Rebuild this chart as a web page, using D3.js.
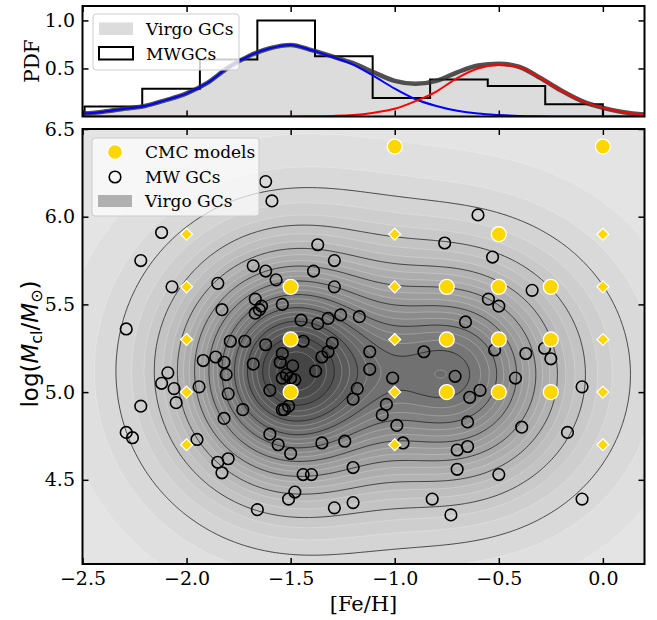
<!DOCTYPE html>
<html>
<head>
<meta charset="utf-8">
<script src="https://cdn.jsdelivr.net/npm/d3@7"></script>
<style>
  body { margin: 0; background: #fff; }
  svg text { font-family: "DejaVu Serif", serif; fill: #000; }
</style>
</head>
<body>
<svg id="chart" width="657" height="620"></svg>
<script>
// ---- data ----

// top panel: [Fe/H] PDFs (Virgo GCs mixture components and total)
const pdfFeH = [-2.5, -2.4, -2.3, -2.2, -2.1, -2.0, -1.9, -1.8, -1.7, -1.6, -1.5, -1.4, -1.3, -1.2,
  -1.1, -1.0, -0.9, -0.8, -0.7, -0.6, -0.5, -0.4, -0.3, -0.2, -0.1, 0.0, 0.1, 0.2];
const pdfBlue = [0.03, 0.05, 0.08, 0.11, 0.17, 0.24, 0.35, 0.51, 0.63, 0.71, 0.745, 0.69, 0.62, 0.54,
  0.42, 0.29, 0.18, 0.11, 0.06, 0.03, 0.015, 0.006, 0.002, 0, 0, 0, 0, 0];
const pdfRed = [0, 0, 0, 0, 0, 0, 0, 0, 0, 0, 0.001, 0.002, 0.006, 0.015,
  0.04, 0.08, 0.16, 0.26, 0.40, 0.50, 0.535, 0.51, 0.40, 0.27, 0.16, 0.09, 0.045, 0.02];
const pdfTotal = [0.03, 0.05, 0.08, 0.11, 0.17, 0.24, 0.35, 0.51, 0.63, 0.71, 0.745, 0.69, 0.625, 0.555,
  0.46, 0.37, 0.34, 0.37, 0.46, 0.53, 0.55, 0.515, 0.40, 0.27, 0.16, 0.09, 0.045, 0.02];

// top panel: MW GC histogram (bin edges and normalised heights)
const mwBinEdges = [-2.49, -2.213, -1.936, -1.66, -1.383, -1.106, -0.83, -0.553, -0.277, 0.0];
const mwBinHeights = [0.103, 0.29, 0.593, 1.0, 0.628, 0.193, 0.386, 0.317, 0.128];

// main panel: Milky Way GCs
const mwFeH = [-1.62, -1.59, -2.12, -2.22, -2.07, -1.85, -1.68, -1.62, -1.57, -1.37, -1.29, -1.39, -1.29,
  -1.83, -1.67, -1.64, -1.65, -1.67, -1.54, -1.45, -1.37, -1.32, -1.26, -1.17, -2.29, -1.79, -1.72,
  -1.62, -1.44, -1.30, -1.32, -1.35, -1.54, -1.55, -1.49, -1.68, -1.38, -1.52, -1.54, -1.50, -1.48,
  -1.92, -1.86, -1.82, -2.09, -2.12, -2.06, -2.05, -2.22, -1.94, -1.81, -1.80, -1.73, -1.60, -1.54,
  -1.53, -1.51, -1.82, -2.29, -2.26, -1.95, -1.60, -1.56, -1.50, -1.35, -1.24, -1.20, -1.18, -1.20,
  -1.85, -1.80, -1.83, -1.44, -1.40, -1.48, -1.51, -1.66, -1.29, -1.20, -0.60, -0.76, -0.53, -0.34,
  -0.55, -0.50, -0.66, -0.86, -0.52, -0.37, -0.28, -0.25, -1.12, -1.12, -1.01, -0.71, -0.42, -0.59,
  -0.64, -1.04, -1.06, -0.99, -0.96, -0.65, -0.39, -0.10, -0.17, -0.70, -0.65, -0.70, -0.50, -0.82,
  -0.73, -0.10];
const mwLogM = [6.20, 6.09, 5.91, 5.75, 5.60, 5.62, 5.72, 5.69, 5.64, 5.84, 5.75, 5.69, 5.60,
  5.47, 5.53, 5.49, 5.47, 5.45, 5.50, 5.41, 5.39, 5.42, 5.44, 5.43, 5.36, 5.29, 5.29,
  5.27, 5.29, 5.28, 5.23, 5.20, 5.22, 5.17, 5.15, 5.16, 5.12, 5.10, 5.08, 5.08, 5.07,
  5.18, 5.20, 5.17, 5.11, 5.05, 5.02, 4.94, 4.92, 5.03, 5.10, 4.99, 4.90, 5.01, 4.90,
  4.90, 4.92, 4.85, 4.77, 4.74, 4.73, 4.76, 4.70, 4.65, 4.71, 4.72, 4.57, 5.02, 4.96,
  4.60, 4.62, 4.54, 4.53, 4.53, 4.43, 4.39, 4.33, 4.34, 4.37, 6.01, 5.85, 5.77, 5.58,
  5.53, 5.49, 5.40, 5.23, 5.24, 5.22, 5.25, 5.19, 5.23, 5.13, 5.08, 5.09, 5.08, 5.01,
  4.97, 4.93, 4.87, 4.81, 4.71, 4.83, 4.80, 5.03, 4.77, 4.67, 4.69, 4.56, 4.53, 4.39,
  4.30, 4.39];

// main panel: CMC model grid (circles) and extra models (diamonds)
const cmcFeH = [-1.0, 0.0, -0.5, -1.5, -0.75, -0.5, -0.25, -1.5, -0.75, -0.5, -0.25, -1.5, -0.75, -0.5, -0.25];
const cmcLogM = [6.4, 6.4, 5.9, 5.6, 5.6, 5.6, 5.6, 5.3, 5.3, 5.3, 5.3, 5.0, 5.0, 5.0, 5.0];
const cmcDiamondFeH = [-2.0, -2.0, -2.0, -2.0, -2.0, -1.0, -1.0, -1.0, -1.0, -1.0, 0.0, 0.0, 0.0, 0.0, 0.0];
const cmcDiamondLogM = [5.9, 5.6, 5.3, 5.0, 4.7, 5.9, 5.6, 5.3, 5.0, 4.7, 5.9, 5.6, 5.3, 5.0, 4.7];

// main panel: Virgo GC density, described by blobs
// (metal-poor core + halo, metal-rich core + halo)
const virgoBlobFeH = [-1.5, -1.5, -0.7, -0.55];
const virgoBlobLogM = [5.12, 5.12, 5.1, 5.1];
const virgoBlobWidthFeH = [0.28, 0.5, 0.28, 0.48];
const virgoBlobWidthLogM = [0.36, 0.6, 0.36, 0.58];
const virgoBlobPeak = [0.6, 0.4, 0.38, 0.27];

const xTicks = [-2.5, -2.0, -1.5, -1.0, -0.5, 0.0];
const yMainTicks = [4.5, 5.0, 5.5, 6.0, 6.5];
const yTopTicks = [0.5, 1.0];

// ---- layout ----
const svg = d3.select('#chart');
const left = 82.5, right = 644.5;
const topPanel = { top: 6, bottom: 116.5 };
const mainPanel = { top: 129, bottom: 564 };

const x = d3.scaleLinear().domain([-2.5, 0.2]).range([left, right]);
const yTop = d3.scaleLinear().domain([0, 1.15]).range([topPanel.bottom, topPanel.top]);
const yMain = d3.scaleLinear().domain([4.02, 6.5]).range([mainPanel.bottom, mainPanel.top]);

const defs = svg.append('defs');
defs.append('clipPath').attr('id', 'clipTop').append('rect')
  .attr('x', left).attr('y', topPanel.top).attr('width', right - left).attr('height', topPanel.bottom - topPanel.top);
defs.append('clipPath').attr('id', 'clipMain').append('rect')
  .attr('x', left).attr('y', mainPanel.top).attr('width', right - left).attr('height', mainPanel.bottom - mainPanel.top);

// ---- top panel ----
const gTop = svg.append('g').attr('clip-path', 'url(#clipTop)');
const pdfPoints = (vals) => pdfFeH.map((f, i) => [f, vals[i]]);

gTop.append('path')
  .datum(pdfPoints(pdfTotal))
  .attr('fill', '#dcdcdc')
  .attr('d', d3.area().curve(d3.curveMonotoneX).x(d => x(d[0])).y0(yTop(0)).y1(d => yTop(d[1])));

// MW histogram as a step outline
const histPts = [[mwBinEdges[0], 0]];
mwBinHeights.forEach((h, i) => {
  histPts.push([mwBinEdges[i], h]);
  histPts.push([mwBinEdges[i + 1], h]);
});
histPts.push([mwBinEdges[mwBinEdges.length - 1], 0]);
gTop.append('path')
  .datum(histPts)
  .attr('fill', 'none').attr('stroke', '#000').attr('stroke-width', 2)
  .attr('d', d3.line().x(d => x(d[0])).y(d => yTop(d[1])));

const pdfLine = d3.line().curve(d3.curveMonotoneX).x(d => x(d[0])).y(d => yTop(d[1]));
gTop.append('path').datum(pdfPoints(pdfTotal))
  .attr('fill', 'none').attr('stroke', '#333').attr('stroke-opacity', 0.85).attr('stroke-width', 4.5)
  .attr('d', pdfLine);
gTop.append('path').datum(pdfPoints(pdfBlue))
  .attr('fill', 'none').attr('stroke', '#0000ff').attr('stroke-width', 2)
  .attr('d', pdfLine);
gTop.append('path').datum(pdfPoints(pdfRed))
  .attr('fill', 'none').attr('stroke', '#ff0000').attr('stroke-width', 2)
  .attr('d', pdfLine);

// top legend
const legTop = svg.append('g');
legTop.append('rect').attr('x', 93).attr('y', 14).attr('width', 146).attr('height', 56).attr('rx', 3)
  .attr('fill', '#fff').attr('fill-opacity', 0.8).attr('stroke', '#ccc').attr('stroke-width', 1);
legTop.append('rect').attr('x', 99).attr('y', 22.5).attr('width', 34).attr('height', 12.5).attr('fill', '#dcdcdc');
legTop.append('rect').attr('x', 99).attr('y', 47).attr('width', 34).attr('height', 12.5)
  .attr('fill', 'none').attr('stroke', '#000').attr('stroke-width', 2);
legTop.append('text').attr('x', 146).attr('y', 35).attr('font-size', 17).text('Virgo GCs');
legTop.append('text').attr('x', 146).attr('y', 60).attr('font-size', 17).text('MWGCs');

// ---- main panel ----
const gMain = svg.append('g').attr('clip-path', 'url(#clipMain)');

// density grid for the Virgo GC contours
const nx = 270, ny = 248;
const x0 = -2.5, x1 = 0.2, y0 = 4.02, y1 = 6.5;
const dx = (x1 - x0) / nx, dy = (y1 - y0) / ny;
const grid = new Float64Array(nx * ny);
for (let j = 0; j < ny; j++) {
  const fy = y0 + (j + 0.5) * dy;
  for (let i = 0; i < nx; i++) {
    const fx = x0 + (i + 0.5) * dx;
    let z = 0;
    virgoBlobFeH.forEach((m, k) => {
      const u = (fx - m) / virgoBlobWidthFeH[k];
      const v = (fy - virgoBlobLogM[k]) / virgoBlobWidthLogM[k];
      z += virgoBlobPeak[k] * Math.exp(-0.5 * (u * u + v * v));
    });
    grid[i + j * nx] = z;
  }
}
const zMax = d3.max(grid);
const nLevels = 30;
const thresholds = d3.range(1, nLevels).map(k => zMax * k / nLevels);
const isBlack = k => k % 3 === 0;
const shade = d3.interpolateRgb('#e4e4e4', '#454545');

const gridPath = d3.geoPath(d3.geoTransform({
  point(px, py) { this.stream.point(x(x0 + px * dx), yMain(y0 + py * dy)); }
}));
const bands = d3.contours().size([nx, ny]).thresholds(thresholds)(grid);

gMain.append('rect').attr('x', left).attr('y', mainPanel.top)
  .attr('width', right - left).attr('height', mainPanel.bottom - mainPanel.top)
  .attr('fill', shade(0));
gMain.append('g').selectAll('path').data(bands).join('path')
  .attr('d', gridPath)
  .attr('fill', (d, i) => shade((i + 1) / (nLevels - 1)));
gMain.append('g').selectAll('path').data(bands.filter((d, i) => !isBlack(i + 1))).join('path')
  .attr('d', gridPath)
  .attr('fill', 'none').attr('stroke', '#fff').attr('stroke-opacity', 0.4).attr('stroke-width', 0.6);
gMain.append('g').selectAll('path').data(bands.filter((d, i) => isBlack(i + 1))).join('path')
  .attr('d', gridPath)
  .attr('fill', 'none').attr('stroke', '#222').attr('stroke-width', 0.8);

// MW GCs
gMain.append('g').selectAll('circle').data(mwFeH).join('circle')
  .attr('cx', d => x(d)).attr('cy', (d, i) => yMain(mwLogM[i])).attr('r', 5.8)
  .attr('fill', 'none').attr('stroke', '#000').attr('stroke-width', 1.6);

// CMC models
const diamond = (cx, cy, s) => `M${cx},${cy - s}L${cx + s},${cy}L${cx},${cy + s}L${cx - s},${cy}Z`;
gMain.append('g').selectAll('path').data(cmcDiamondFeH).join('path')
  .attr('d', (d, i) => diamond(x(d), yMain(cmcDiamondLogM[i]), 6))
  .attr('fill', '#ffd700').attr('stroke', '#fff').attr('stroke-width', 1.2);
gMain.append('g').selectAll('circle').data(cmcFeH).join('circle')
  .attr('cx', d => x(d)).attr('cy', (d, i) => yMain(cmcLogM[i])).attr('r', 7.5)
  .attr('fill', '#ffd700').attr('stroke', '#fff').attr('stroke-width', 1.3);

// main legend
const legMain = svg.append('g');
legMain.append('rect').attr('x', 92).attr('y', 138).attr('width', 167).attr('height', 78).attr('rx', 3)
  .attr('fill', '#fff').attr('fill-opacity', 0.7).attr('stroke', '#ccc').attr('stroke-width', 1);
legMain.append('circle').attr('cx', 115).attr('cy', 152).attr('r', 7.5)
  .attr('fill', '#ffd700').attr('stroke', '#fff').attr('stroke-width', 1.3);
legMain.append('circle').attr('cx', 115).attr('cy', 177).attr('r', 5.8)
  .attr('fill', 'none').attr('stroke', '#000').attr('stroke-width', 1.6);
legMain.append('rect').attr('x', 98).attr('y', 195).attr('width', 34).attr('height', 12).attr('fill', '#b0b0b0');
legMain.append('text').attr('x', 145).attr('y', 158).attr('font-size', 17).text('CMC models');
legMain.append('text').attr('x', 145).attr('y', 183).attr('font-size', 17).text('MW GCs');
legMain.append('text').attr('x', 145).attr('y', 207).attr('font-size', 17).text('Virgo GCs');

// ---- axes, ticks, frames ----
function styleAxis(g) {
  g.attr('font-family', 'DejaVu Serif').attr('font-size', 19);
  g.select('.domain').remove();
  g.selectAll('.tick line').attr('stroke-width', 1.5);
}
const tickFmt = d3.format('.1f');

// main panel
svg.append('g').attr('transform', `translate(0,${mainPanel.bottom})`)
  .call(d3.axisBottom(x).tickValues(xTicks).tickSize(-6).tickPadding(8).tickFormat(tickFmt)).call(styleAxis);
svg.append('g').attr('transform', `translate(0,${mainPanel.top})`)
  .call(d3.axisTop(x).tickValues(xTicks).tickSize(-6).tickFormat('')).call(styleAxis);
svg.append('g').attr('transform', `translate(${left},0)`)
  .call(d3.axisLeft(yMain).tickValues(yMainTicks).tickSize(-6).tickPadding(7.5).tickFormat(tickFmt)).call(styleAxis);
svg.append('g').attr('transform', `translate(${right},0)`)
  .call(d3.axisRight(yMain).tickValues(yMainTicks).tickSize(-6).tickFormat('')).call(styleAxis);

// top panel
svg.append('g').attr('transform', `translate(0,${topPanel.bottom})`)
  .call(d3.axisBottom(x).tickValues(xTicks).tickSize(-6).tickFormat('')).call(styleAxis);
svg.append('g').attr('transform', `translate(0,${topPanel.top})`)
  .call(d3.axisTop(x).tickValues(xTicks).tickSize(-6).tickFormat('')).call(styleAxis);
svg.append('g').attr('transform', `translate(${left},0)`)
  .call(d3.axisLeft(yTop).tickValues(yTopTicks).tickSize(-6).tickPadding(7.5).tickFormat(tickFmt)).call(styleAxis);
svg.append('g').attr('transform', `translate(${right},0)`)
  .call(d3.axisRight(yTop).tickValues(yTopTicks).tickSize(-6).tickFormat('')).call(styleAxis);

[topPanel, mainPanel].forEach(p => {
  svg.append('rect').attr('x', left).attr('y', p.top)
    .attr('width', right - left).attr('height', p.bottom - p.top)
    .attr('fill', 'none').attr('stroke', '#000').attr('stroke-width', 2);
});

// axis labels
svg.append('text').attr('x', (left + right) / 2).attr('y', 611)
  .attr('text-anchor', 'middle').attr('font-size', 21).text('[Fe/H]');
svg.append('text').attr('transform', 'translate(39,61) rotate(-90)')
  .attr('text-anchor', 'middle').attr('font-size', 20).text('PDF');

const ylab = svg.append('text').attr('transform', 'translate(38,344) rotate(-90)')
  .attr('text-anchor', 'middle').attr('font-size', 23)
  .style('font-family', '"DejaVu Sans", sans-serif');
ylab.append('tspan').text('log(');
ylab.append('tspan').attr('font-style', 'italic').text('M');
ylab.append('tspan').attr('font-size', 16).attr('dy', 4).text('cl');
ylab.append('tspan').attr('dy', -4).text('/');
ylab.append('tspan').attr('font-style', 'italic').text('M');
ylab.append('tspan').attr('font-size', 16).attr('dy', 4).text('\u2299');
ylab.append('tspan').attr('dy', -4).text(')');
</script>
</body>
</html>
